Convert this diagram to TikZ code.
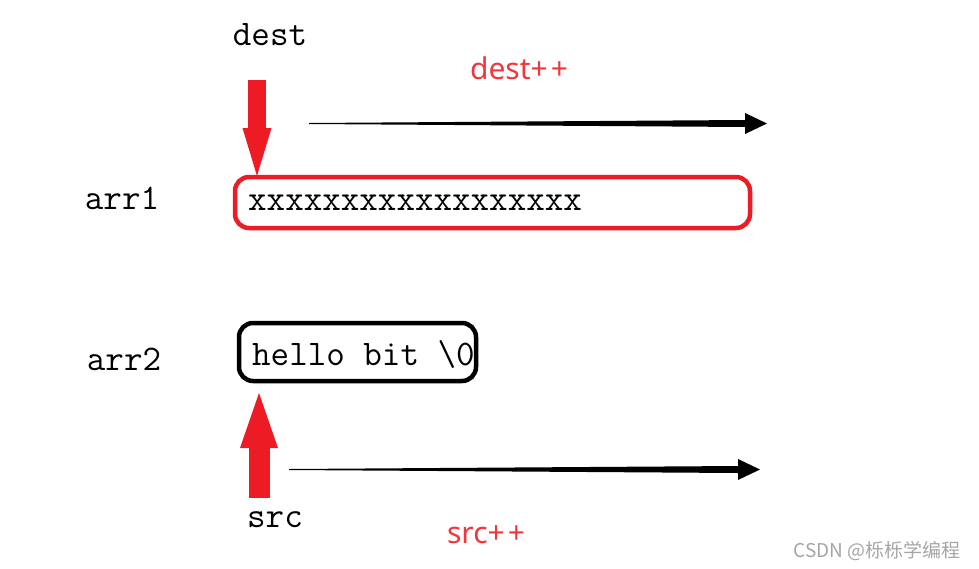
\documentclass[tikz,border=0pt]{standalone}
\usepackage{fontspec}
\newfontfamily\labelsans{Noto Sans}
\newfontfamily\cjk{Noto Sans CJK SC}
\usetikzlibrary{arrows.meta,calc}
\definecolor{arrowred}{RGB}{237,28,36}
\definecolor{textred}{RGB}{240,55,60}
\definecolor{wmgray}{RGB}{165,165,165}
\begin{document}
\begin{tikzpicture}[x=1pt,y=-1pt,
  mono/.style={font=\fontsize{36}{40}\selectfont\ttfamily, inner sep=0pt},
  redlabel/.style={font=\fontsize{30}{32}\selectfont\labelsans, text=textred, inner sep=0pt, anchor=base},
  redbox/.style={draw=arrowred, line width=4.5pt, rounded corners=14pt, inner sep=0pt},
  blackbox/.style={draw=black, line width=4.5pt, rounded corners=14pt, inner sep=0pt},
  fatdown/.style={draw=arrowred, line width=18pt, -{Triangle[length=48pt,width=29pt,line width=0pt]}},
  fatup/.style={draw=arrowred, line width=21pt, -{Triangle[length=55pt,width=38pt,line width=0pt]}},
  taper/.style={fill=black}
]
\useasboundingbox (0,0) rectangle (979,568);

% boxes
\node[redbox, minimum width=515pt, minimum height=51pt] (box1) at (492.5,202.5) {};
\node[blackbox, minimum width=237pt, minimum height=58pt] (box2) at (357.5,352) {};

% texts
\node[mono, anchor=base] (dest) at (270,45) {dest};
\node[mono, anchor=base] (arr1) at (122,209) {arr1};
\node[mono, anchor=base] (arr2) at (124,370) {arr2};
\node[mono, anchor=base west] (xs) at (248,210) {xxxxxxxxxxxxxxxxxx};
\node[mono, anchor=base west] (hello) at (252,365) {hello bit \textbackslash0};
\node[mono, anchor=base] (src) at (275,527) {src};
\node[redlabel] (destpp) at (519,79) {dest+\kern3pt+};
\node[redlabel] (srcpp) at (486,543) {src+\kern3pt+};
\node[font=\fontsize{19}{21}\selectfont\cjk, text=wmgray, anchor=base, inner sep=0pt] (wm) at (877,557) {CSDN @栎栎学编程};

% red pointer arrows
\coordinate (dtail) at (257,80);
\coordinate (dtip) at (257,176);
\draw[fatdown] (dtail) -- (dtip);
\coordinate (utail) at (259,498);
\coordinate (utip) at (259,393);
\draw[fatup] (utail) -- (utip);

% tapered black arrows
\coordinate (a1s) at (309,123.5);
\coordinate (a1e) at (767,123.5);
\fill[taper] ($(a1s)+(0,-0.5)$) -- ($(a1e)+(-22,-3.5)$) -- ($(a1e)+(-22,-10.5)$) -- (a1e)
  -- ($(a1e)+(-22,10.5)$) -- ($(a1e)+(-22,3.5)$) -- ($(a1s)+(0,0.5)$) -- cycle;
\coordinate (a2s) at (289,469.5);
\coordinate (a2e) at (760,469.5);
\fill[taper] ($(a2s)+(0,-0.5)$) -- ($(a2e)+(-22,-3.5)$) -- ($(a2e)+(-22,-10.5)$) -- (a2e)
  -- ($(a2e)+(-22,10.5)$) -- ($(a2e)+(-22,3.5)$) -- ($(a2s)+(0,0.5)$) -- cycle;
\end{tikzpicture}
\end{document}
